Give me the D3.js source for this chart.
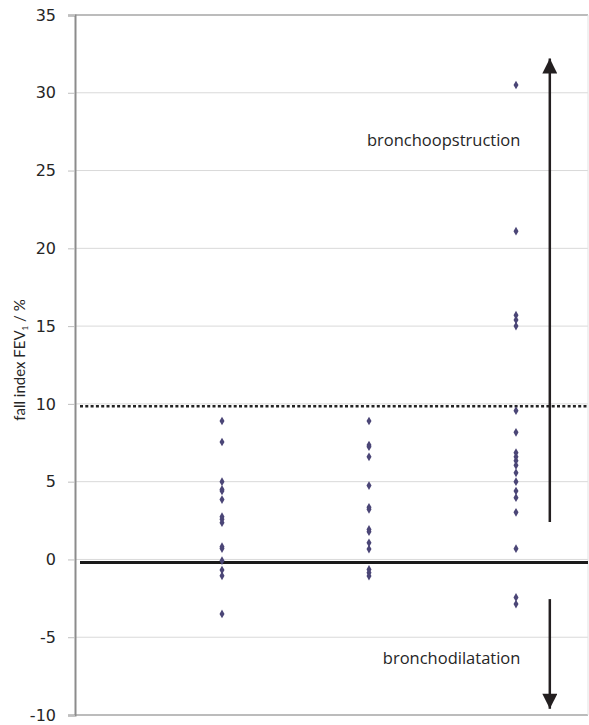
<!DOCTYPE html>
<html>
<head>
<meta charset="utf-8">
<script src="https://cdn.jsdelivr.net/npm/d3@7"></script>
<style>
  body { margin: 0; background: #fff; }
</style>
</head>
<body>
<div id="chart"></div>
<script>
// values, one array per group
var group1 = [8.9, 7.55, 5.0, 4.5, 4.4, 3.85, 2.75, 2.58, 2.36, 0.82, 0.7, -0.08, -0.68, -1.05, -3.5];
var group2 = [8.9, 7.35, 7.25, 6.6, 4.75, 3.35, 3.22, 1.93, 1.78, 1.07, 0.67, -0.64, -0.85, -1.07];
var group3 = [30.5, 21.1, 15.7, 15.4, 15.0, 9.56, 8.17, 6.86, 6.6, 6.35, 6.05, 5.57, 5.0, 4.4, 3.97, 3.03, 0.69, -2.44, -2.87];
var groups = [1, 2, 3];
var yTicks = [-10, -5, 0, 5, 10, 15, 20, 25, 30, 35];
var thresholdLine = 9.85;   // dotted line
var baseLine = -0.2;        // thick black line
var arrowUp = [2.4, 32.2];
var arrowDown = [-2.55, -9.6];
var arrowX = 3.23;
var notes = [
  { text: "bronchoopstruction", x: 3.03, y: 26.6 },
  { text: "bronchodilatation", x: 3.03, y: -6.7 }
];

var width = 589, height = 725;
var svg = d3.select("#chart").append("svg")
    .attr("width", width)
    .attr("height", height);

var x = d3.scaleLinear().domain([0, 3.5]).range([75, 589.5]);
var y = d3.scaleLinear().domain([-10, 35]).range([715, 15]);

// gridlines
svg.append("g")
  .selectAll("line")
  .data(yTicks.filter(function (d) { return d > -10 && d < 35; }))
  .enter().append("line")
    .attr("x1", 75).attr("x2", 588)
    .attr("y1", function (d) { return y(d); })
    .attr("y2", function (d) { return y(d); })
    .attr("stroke", "#d9d9d9")
    .attr("stroke-width", 1);

// frame: top, bottom, right
svg.append("line").attr("x1", 75).attr("x2", 588).attr("y1", y(35)).attr("y2", y(35))
    .attr("stroke", "#a6a6a6").attr("stroke-width", 1.5);
svg.append("line").attr("x1", 75).attr("x2", 588).attr("y1", y(-10)).attr("y2", y(-10))
    .attr("stroke", "#a6a6a6").attr("stroke-width", 1.5);
svg.append("line").attr("x1", 588).attr("x2", 588).attr("y1", y(35)).attr("y2", y(-10))
    .attr("stroke", "#e3e3e3").attr("stroke-width", 1);

// y axis
var yAxis = svg.append("g")
    .attr("transform", "translate(75,0)")
    .call(d3.axisLeft(y).tickValues(yTicks).tickSize(7).tickPadding(12)
      .tickFormat(function (d) { return String(d); }));
yAxis.select(".domain").attr("stroke", "#8c8c8c").attr("stroke-width", 2);
yAxis.selectAll(".tick line").attr("stroke", "#bfbfbf");
yAxis.selectAll("text")
    .attr("font-family", "DejaVu Sans, Verdana, sans-serif")
    .attr("font-size", 16)
    .attr("fill", "#262626");

var title = svg.append("text")
    .attr("transform", "translate(25,360) rotate(-90)")
    .attr("text-anchor", "middle")
    .attr("font-family", "Lato, sans-serif")
    .attr("font-size", 15)
    .attr("fill", "#262626");
title.append("tspan").text("fall index FEV");
title.append("tspan").attr("font-size", 8).attr("dy", 3).text("1");
title.append("tspan").attr("dy", -3).text(" / %");

// reference lines
svg.append("line")
    .attr("x1", 80).attr("x2", 588)
    .attr("y1", y(thresholdLine)).attr("y2", y(thresholdLine))
    .attr("stroke", "#222").attr("stroke-width", 2.5)
    .attr("stroke-dasharray", "3,2.3");
svg.append("line")
    .attr("x1", 80).attr("x2", 588)
    .attr("y1", y(baseLine)).attr("y2", y(baseLine))
    .attr("stroke", "#1a1a1a").attr("stroke-width", 3);

// points
var sets = [group1, group2, group3];
var diamond = d3.symbol().type(d3.symbolDiamond).size(22);
sets.forEach(function (vals, i) {
  svg.append("g")
    .selectAll("path")
    .data(vals)
    .enter().append("path")
      .attr("d", diamond)
      .attr("transform", function (d) { return "translate(" + x(groups[i]) + "," + y(d) + ")"; })
      .attr("fill", "#4b4677");
});

// arrows
svg.append("defs").append("marker")
    .attr("id", "head")
    .attr("viewBox", "0 0 10 10")
    .attr("refX", 10).attr("refY", 5)
    .attr("markerUnits", "userSpaceOnUse")
    .attr("markerWidth", 17).attr("markerHeight", 15)
    .attr("orient", "auto")
  .append("path")
    .attr("d", "M0,0L10,5L0,10Z")
    .attr("fill", "#231f20");

[arrowUp, arrowDown].forEach(function (a) {
  svg.append("line")
    .attr("x1", x(arrowX)).attr("x2", x(arrowX))
    .attr("y1", y(a[0])).attr("y2", y(a[1]))
    .attr("stroke", "#231f20")
    .attr("stroke-width", 2.5)
    .attr("marker-end", "url(#head)");
});

// annotations
svg.append("g")
  .selectAll("text")
  .data(notes)
  .enter().append("text")
    .attr("x", function (d) { return x(d.x); })
    .attr("y", function (d) { return y(d.y); })
    .attr("text-anchor", "end")
    .attr("font-family", "Open Sans, sans-serif")
    .attr("font-size", 16.5)
    .attr("fill", "#262626")
    .text(function (d) { return d.text; });
</script>
</body>
</html>
